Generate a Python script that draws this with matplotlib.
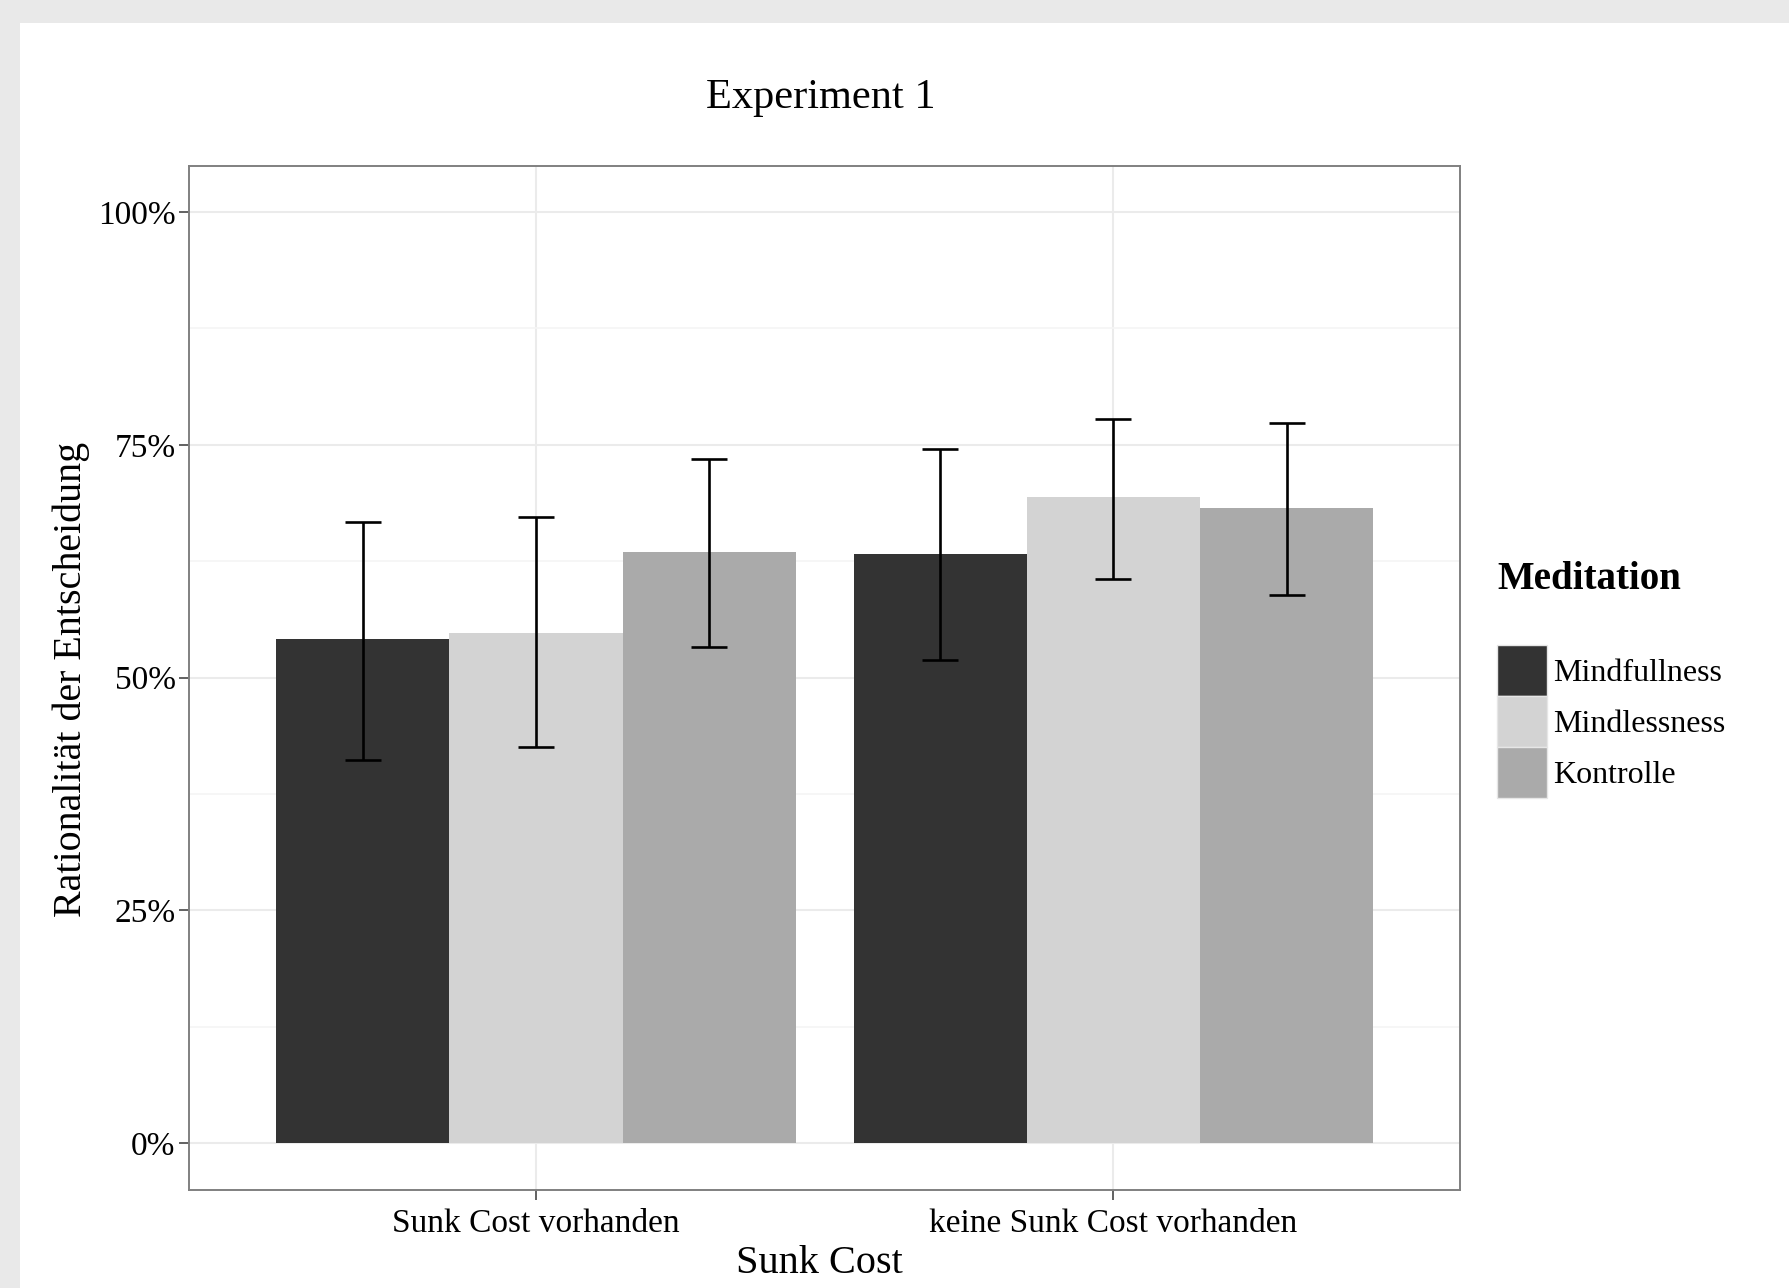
"""Grouped bar chart with error bars: Experiment 1."""

import matplotlib
matplotlib.use("Agg")
import matplotlib.pyplot as plt
from matplotlib.patches import Patch, Rectangle
from matplotlib.ticker import PercentFormatter, MultipleLocator
import numpy as np

# data
categories = ["Sunk Cost vorhanden", "keine Sunk Cost vorhanden"]
groups = ["Mindfullness", "Mindlessness", "Kontrolle"]
colors = ["#333333", "#d3d3d3", "#aaaaaa"]

mindfullness = [0.541, 0.633]
mindlessness = [0.548, 0.694]
kontrolle = [0.635, 0.682]

mindfullness_lo = [0.411, 0.519]
mindfullness_hi = [0.667, 0.745]
mindlessness_lo = [0.425, 0.606]
mindlessness_hi = [0.672, 0.778]
kontrolle_lo = [0.533, 0.589]
kontrolle_hi = [0.735, 0.773]

means = [mindfullness, mindlessness, kontrolle]
lows = [mindfullness_lo, mindlessness_lo, kontrolle_lo]
highs = [mindfullness_hi, mindlessness_hi, kontrolle_hi]

plt.rcParams['font.family'] = ['Liberation Serif', 'DejaVu Serif']

W, H = 1790, 1288
fig = plt.figure(figsize=(W / 100, H / 100), dpi=100)
fig.patch.set_facecolor("#e9e9e9")
# white card, grey strip only on the top and the left
fig.patches.append(Rectangle((20 / W, 0), 1, 1 - 23 / H, transform=fig.transFigure,
                             facecolor="white", edgecolor="none", zorder=-1))

ax = fig.add_axes([189.5 / W, 1 - 1189.5 / H, (1460 - 189.5) / W, (1189.5 - 165.5) / H])

x = np.arange(1, len(categories) + 1)
bar_w = 0.3
for i, (name, col) in enumerate(zip(groups, colors)):
    pos = x + (i - 1) * bar_w
    vals = np.array(means[i])
    ax.bar(pos, vals, width=bar_w, color=col, edgecolor="none", zorder=2, label=name)
    err = [vals - np.array(lows[i]), np.array(highs[i]) - vals]
    ax.errorbar(pos, vals, yerr=err, fmt="none", ecolor="black", elinewidth=1.9,
                capsize=13, capthick=1.9, zorder=3)

ax.set_xlim(0.4, 2.6)
ax.set_ylim(-0.05, 1.05)
ax.set_xticks(x)
ax.set_xticklabels(categories)
ax.yaxis.set_major_locator(MultipleLocator(0.25))
ax.yaxis.set_minor_locator(MultipleLocator(0.125))
ax.yaxis.set_major_formatter(PercentFormatter(1.0, decimals=0))

ax.set_axisbelow(True)
ax.grid(True, which="major", color="#ebebeb", linewidth=1.5)
ax.grid(True, which="minor", axis="y", color="#f5f5f5", linewidth=1.2)
ax.tick_params(which="minor", length=0)
ax.tick_params(which="major", length=7, width=1.3, color="#555555",
               labelsize=24, labelcolor="black", pad=3)
ax.tick_params(axis="x", pad=7)
for s in ax.spines.values():
    s.set_color("#808080")
    s.set_linewidth(1.4)

fig.text(821 / W, 1 - 97.5 / H, "Experiment 1", ha="center", va="center", fontsize=30.5)
fig.text(819 / W, 1 - 1263.5 / H, "Sunk Cost", ha="center", va="center", fontsize=29)
fig.text(71 / W, 1 - 679 / H, "Rationalität der Entscheidung", ha="center", va="center",
         rotation=90, fontsize=28.8)

handles = [Patch(facecolor=c, edgecolor="#e6e6e6", linewidth=1) for c in colors]
leg = fig.legend(handles, groups, loc="upper left", bbox_to_anchor=(1497 / W, 1 - 561 / H),
                 frameon=False, fontsize=23, title="Meditation",
                 title_fontproperties={"weight": "bold", "size": 28},
                 handlelength=1.55, handleheight=2.08, labelspacing=0.0,
                 handletextpad=0.2, borderpad=0, borderaxespad=0, alignment="left")
leg._legend_box.sep = 34

fig.savefig("out.png", dpi=100, facecolor=fig.get_facecolor())
